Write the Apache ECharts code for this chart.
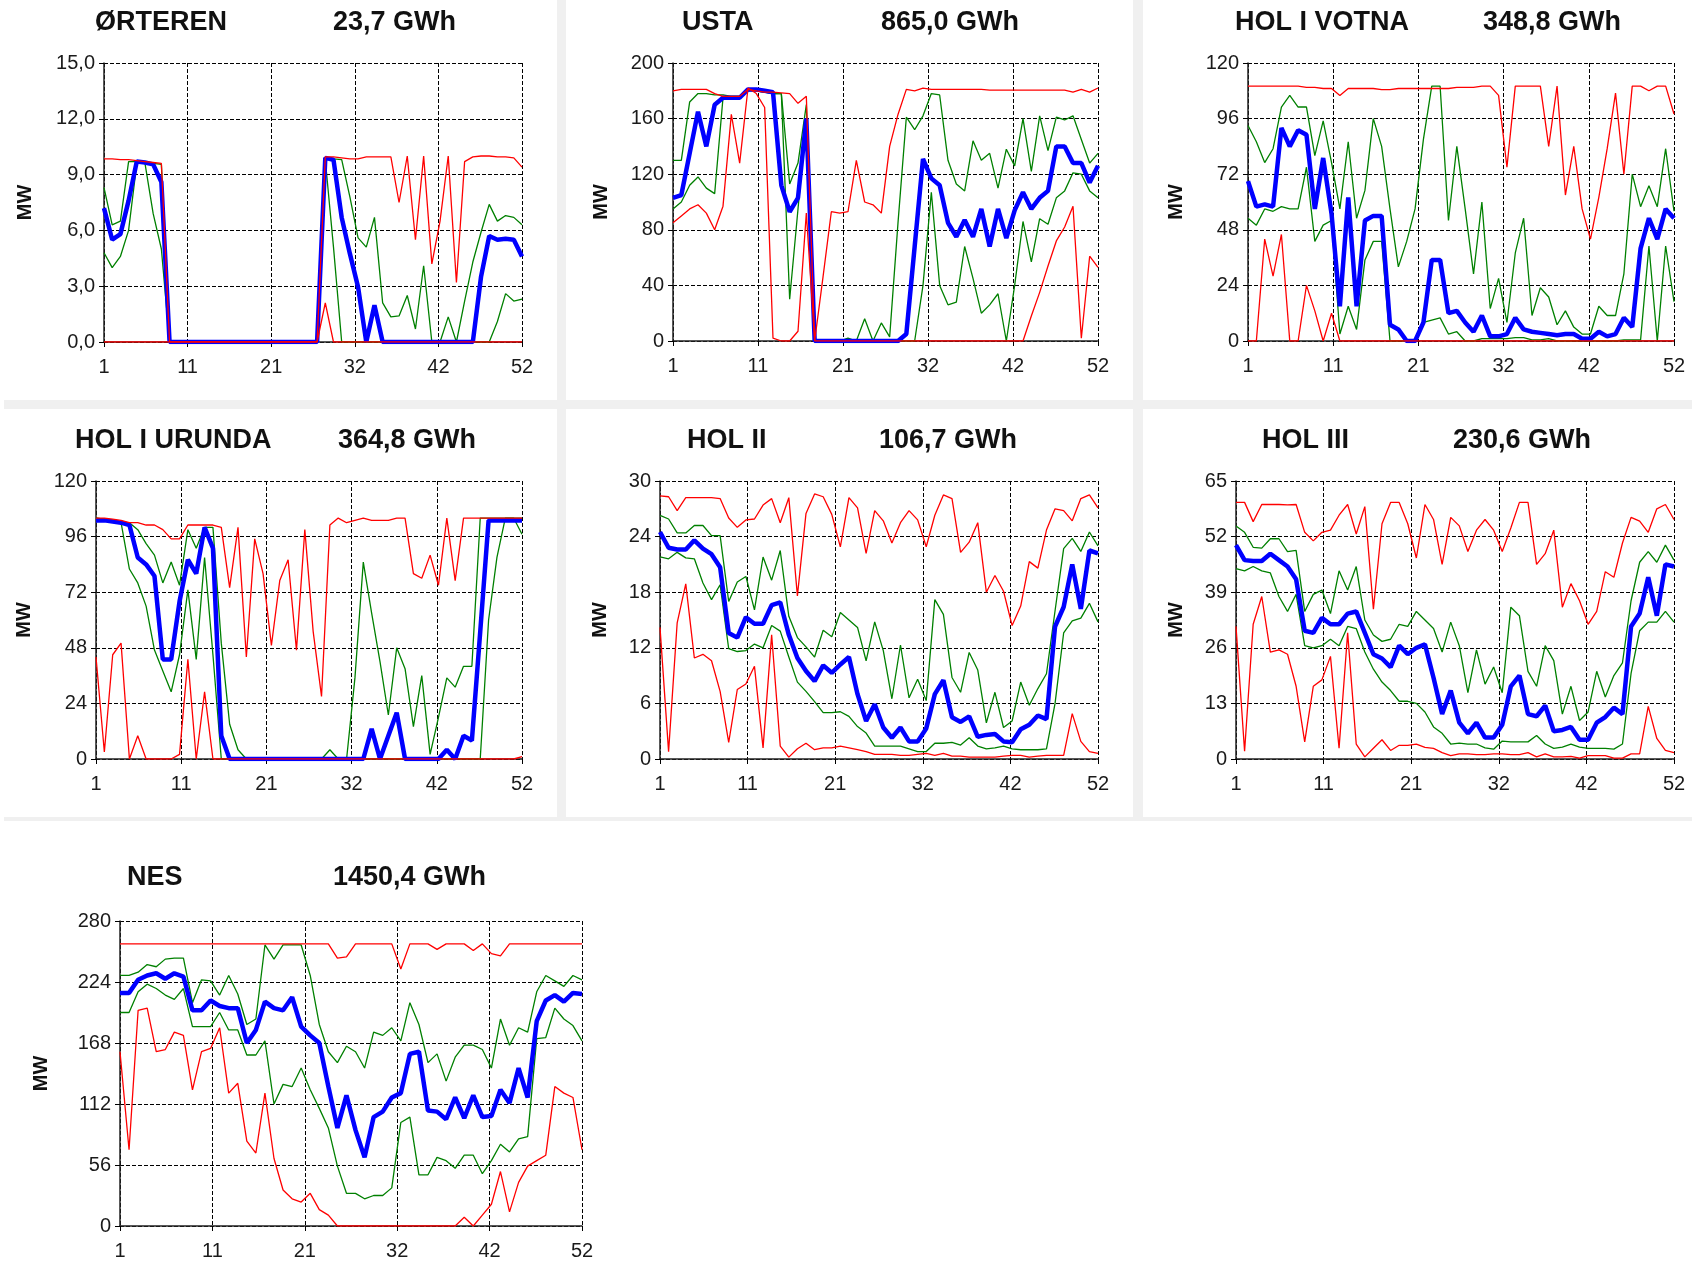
<!DOCTYPE html>
<html>
<head>
<meta charset="utf-8">
<title>Produksjon per uke</title>
<script src="https://cdn.jsdelivr.net/npm/echarts@6/dist/echarts.min.js"></script>
<style>
html, body { margin: 0; padding: 0; background: #fff; }
#chart { width: 1692px; height: 1262px; }
</style>
</head>
<body>
<div id="chart"></div>
<script>
// uke 1..52
const weeks = [1,2,3,4,5,6,7,8,9,10,11,12,13,14,15,16,17,18,19,20,21,22,23,24,25,26,
  27,28,29,30,31,32,33,34,35,36,37,38,39,40,41,42,43,44,45,46,47,48,49,50,51,52];

const stationNames = ['ØRTEREN', 'USTA', 'HOL I VOTNA', 'HOL I URUNDA', 'HOL II', 'HOL III', 'NES'];
const energyGWh = ['23,7 GWh', '865,0 GWh', '348,8 GWh', '364,8 GWh', '106,7 GWh', '230,6 GWh', '1450,4 GWh'];
const yMaxes = [15, 200, 120, 120, 30, 65, 280];
const yIntervals = [3, 40, 24, 24, 6, 13, 56];

// ØRTEREN
const ortMax = [9.85,9.85,9.8,9.8,9.75,9.7,9.65,9.6,0,0,0,0,0,0,0,0,0,0,0,0,0,0,0,0,0,0,0,
  9.95,9.95,9.9,9.85,9.85,9.95,9.95,9.95,9.95,7.5,10,5.5,10,4.2,6.5,10,3.2,9.7,9.95,10,10,9.95,9.95,9.9,9.4];
const ortHi = [8.3,6.3,6.5,9.7,9.7,9.65,9.6,9.55,0,0,0,0,0,0,0,0,0,0,0,0,0,0,0,0,0,0,0,
  9.9,9.85,9.8,7.8,5.6,5.1,6.7,2.1,1.35,1.4,2.5,0.7,4.1,0,0,1.35,0,2.2,4.3,5.9,7.4,6.5,6.8,6.7,6.3];
const ortMed = [7.2,5.5,5.8,7.6,9.7,9.65,9.55,8.6,0,0,0,0,0,0,0,0,0,0,0,0,0,0,0,0,0,0,0,
  9.9,9.8,6.7,4.75,2.95,0,1.97,0,0,0,0,0,0,0,0,0,0,0,0,3.5,5.7,5.5,5.55,5.5,4.6];
const ortLo = [4.8,4.0,4.6,6.0,9.6,9.6,6.9,5.0,0,0,0,0,0,0,0,0,0,0,0,0,0,0,0,0,0,0,0,
  9.8,5.1,0,0,0,0,0,0,0,0,0,0,0,0,0,0,0,0,0,0,0,1.1,2.6,2.2,2.3];
const ortMin = [0,0,0,0,0,0,0,0,0,0,0,0,0,0,0,0,0,0,0,0,0,0,0,0,0,0,0,
  2.1,0,0,0,0,0,0,0,0,0,0,0,0,0,0,0,0,0,0,0,0,0,0,0,0];

// USTA
const ustaMax = [180,181,181,181,181,178,176,176,176,181,180,179,179,178.5,178,171,176,0,46,93,92,93,130,100,98,92,
  140,163,181,180,182,181,181,181,181,181,181,181,180.5,180.5,180.5,180.5,180.5,180.5,180.5,180.5,180.5,180.5,179,181,179,182];
const ustaHi = [130,130,172,178,178,177,177,176,176,181,180,179,178,178,113,128,170,0,0,0,0,2,0,16,0,13,
  3,85,161,152,162,178,177,130,113,108,144,130,135,110,138,126,160,122,162,137,161,159,162,145,128,135];
const ustaMed = [103,105,135,165,140,170,175,175,175,181,181,180,179,112,93,103,160,0,0,0,0,0,0,0,0,0,
  0,0,5,68,131,117,112,85,75,87,75,95,68,95,74,94,107,95,103,108,140,140,128,128,114,126];
const ustaLo = [95,100,112,118,110,106,175,176,176,180,180,179,178,178,30,95,160,0,0,0,0,0,0,0,0,0,
  0,0,0,0,40,107,40,26,28,68,45,20,26,34,0,40,86,57,88,84,103,108,121,120,108,103];
const ustaMin = [85,90,95,98,92,80,97,163,128,182,178,168,2,0,0,7,92,0,0,0,0,0,0,0,0,0,
  0,0,0,0,0,0,0,0,0,0,0,0,0,0,0,0,0,18,35,54,72,82,97,2,61,53];

// HOL I VOTNA
const votMax = [110,110,110,110,110,110,110,109.5,109.5,109,109,106,109,109,109,109,108.5,108.5,109,109,109,109,109,109,109,109.5,
  109.5,109.5,110,110,106,75,110,110,110,110,84,110,63,84,57,44,62,83,107,72,110,110,108,110,110,98];
const votHi = [93,86,77,83,101,106,101,101,80,95,77,57,86,53,65,96,84,57,32,43,57,87,110,110,52,84,
  57,29,60,14,27,8,38,53,11,23,19,7,13,6,3,3,15,11,11,29,72,58,67,58,83,56];
const votMed = [69,58,59,58,92,84,91,89,57,79,55,15,62,15,52,54,54,7,5,0,0,8,35,35,12,13,
  8,4,11,2,2,3,10,5,4,3.5,3,2.5,3,3,1,1,4,2,3,10,6,40,53,44,57,53];
const votLo = [53,50,57,56,58,57,57,75,43,50,52,3,15,5,35,43,43,0,0,0,0,8,9,10,3,4,
  0,0,1,1,1,1,1.5,1.5,0.5,0.5,1,0,0,0,0,0,0,0,0,0.5,0.5,0.5,41,0,41,17];
const votMin = [0,0,44,28,46,0,0,24,13,0,12,0,0,0,0,0,0,0,0,0,0,0,0,0,0,0,
  0,0,0,0,0,0,0,0,0,0,0,0,0,0,0,0,0,0,0,0,0,0,0,0,0,0];

// HOL I URUNDA
const uruMax = [104,104,103.5,103,102,102,101,101,99,95,95,101,101,101,101,100,74,100,44,95,80,49,77,86,47,99,
  55,27,101,104,102,103,104,103,103,103,104,104,80,78,88,75,104,77,104,104,104,104,104,104,104,104];
const uruHi = [104,103.5,103,102,102,99,93,88,76,85,75,99,91,100,100,50,15,4,0,0,0,0,0,0,0,0,
  0,0,4,0,0,35,85,63,42,19,48,39,14,36,2,18,35,31,40,40,104,104,104,104,104,97];
const uruMed = [103,103,102.5,102,101,87,84,79,43,43,68,86,80,100,91,10,0,0,0,0,0,0,0,0,0,0,
  0,0,0,0,0,0,0,13,0,10,20,0,0,0,0,0,4,0,10,8,55,103,103,103,103,103];
const uruLo = [104,103.5,103,102,82,76,66,47,38,29,45,73,43,87,45,0,0,0,0,0,0,0,0,0,0,0,
  0,0,0,0,0,0,0,0,0,0,0,0,0,0,0,0,0,0,0,0,0,60,87,104,104,104];
const uruMin = [44,3,45,50,0,10,0,0,0,0,2,43,0,29,0,0,0,0,0,0,0,0,0,0,0,0,
  0,0,0,0,0,0,0,0,0,0,0,0,0,0,0,0,0,0,0,0,0,0,0,0,0,1];

// HOL II
const h2Max = [28.4,28.3,26.8,28.2,28.2,28.2,28.2,28.1,26,25,25.8,25.9,27.4,28.1,25.5,28.2,17.6,26.5,28.6,28.3,26.4,22.9,28.2,27.1,22.2,26.8,
  25.7,23.3,25.5,26.8,25.8,22.9,26.3,28.5,28.1,22.3,23.4,25.5,18,19.8,18.1,14.4,16.5,21.3,20.6,24.7,27,26.8,25.7,28.1,28.5,27.1];
const h2Hi = [26.3,25.9,24.4,24.4,25.2,25.2,24.1,24.1,17,19.1,19.7,16.1,21.8,19.3,22.5,15.4,13.1,12.1,11,13.9,13.2,15.8,15,14.2,10.6,14.8,
  11.7,6.5,12.3,6.6,8.6,6.3,17.2,15.6,8.8,7.2,11.5,9.6,3.9,7.2,3.4,4.1,8.3,5.8,7.6,9.2,16,22.7,23.8,22.4,24.5,23.0];
const h2Med = [24.5,22.8,22.6,22.6,23.6,22.7,22.1,20.7,13.6,13.1,15.3,14.6,14.6,16.6,16.9,13.4,10.9,9.5,8.4,10.1,9.3,10.2,11,7,4.1,5.9,
  3.4,2.3,3.4,1.9,1.9,3.3,7,8.5,4.5,4,4.6,2.4,2.6,2.7,1.9,1.8,3.2,3.7,4.7,4.3,14.3,16.4,21,16.2,22.5,22.2];
const h2Lo = [21.8,21.6,22.3,21.7,21.6,19,17.2,18.8,11.9,11.6,11.7,12.4,12,14.4,13.8,11,8.3,7.3,6.2,5,5,5.1,4.6,3.5,2.8,1.4,
  1.4,1.4,1.4,1.1,0.8,0.8,1.7,1.7,1.8,1.5,2.3,1.4,1.1,1.2,1.4,1.1,1.0,1.0,1.0,1.1,6,13.6,14.9,15.2,16.8,14.8];
const h2Min = [14.2,0.8,14.7,18.9,10.9,11.3,10.6,7.3,1.8,7.5,8.1,10,1.2,13.4,1.4,0.2,1.1,1.7,1.0,1.2,1.2,1.4,1.2,1.0,0.8,0.5,
  0.5,0.5,0.4,0.4,0.5,0.6,0.4,0.6,0.3,0.3,0.2,0.2,0.2,0.2,0.3,0.4,0.4,0.2,0.3,0.4,0.4,0.4,4.9,1.9,0.8,0.6];

// HOL III
const h3Max = [60,60,55.5,59.5,59.5,59.5,59.4,59.5,53,51,53,53.5,57,59.5,52.6,59,35,55,60,60,55,47,59.5,56,45.5,56.5,
  54.5,48.5,53.5,56,53.5,48.5,54,60,60,45.5,48,53.5,35.5,41,37,31.5,34.5,43.8,42.5,50.5,56.5,55.6,53,58.5,59.5,56];
const h3Hi = [54.5,53,49.5,49.3,51.5,51.5,48.5,48.8,34.5,38.5,39.5,34,44,39.5,45,32.5,29,27.5,28,31.5,31,34.5,32.5,30.5,25,32,
  26.5,15.5,25.5,17.5,21.5,15.5,35.5,33.5,20.5,17,26.5,23,10.5,17,9,11,20.5,14.5,19.5,22.5,37,46,48.5,46,50,46.5];
const h3Med = [50,46.5,46.3,46.3,48,46.5,45,42,30,29.5,33,31.5,31.5,34,34.5,29.5,24.5,23.5,21.5,26.5,24.5,26,26.8,19,10.5,16,
  8.5,6,8.5,5,5,8,17,19.5,10.5,10,12.5,6.5,6.8,7.5,4.5,4.5,8.5,9.8,12,10.5,31,34,42.5,33.5,45.5,45];
const h3Lo = [44.5,44,45,44,43.5,38,34.5,38.5,26.5,26,26.5,28,26.5,31,30.5,25,21,18,16,13.5,13.5,13,11,7.5,6,3.5,
  3.7,3.5,3.5,2.6,2.3,4.2,4,4,4,5.5,3.5,2.5,2.8,3.5,2.8,2.5,2.5,2.5,2.3,3.5,20,30,32,32,34.5,32];
const h3Min = [31,1.8,31.5,38,25,25.5,24.5,17,4,17,18.5,24,2.5,29.5,3.5,0.5,2.5,4.5,2,3.2,3.2,3.5,2.7,2.5,1.5,0.8,
  1.2,1.2,1,1,1.2,1.2,1,1,1.5,0.5,1.2,0.5,0.5,0.6,0.2,0.8,0.8,0.8,0.2,0.2,1.2,1.2,12.3,4.8,2,1.5];

// NES
const nesMax = [259,259,259,259,259,259,259,259,259,259,259,259,259,259,259,259,259,259,259,259,259,259,259,259,246,247,
  259,259,259,259,259,236,259,259,259,254,259,259,259,253,259,250,248,259,259,259,259,259,259,259,259,259];
const nesHi = [230,230,233,240,238,245,246,246,205,226,225,212,230,213,185,190,258,245,258,258,258,230,185,160,150,165,
  160,145,178,175,182,170,205,185,150,158,133,155,166,166,162,145,190,166,182,178,215,230,225,220,230,226];
const nesMed = [214,214,226,230,232,227,232,229,198,198,207,202,200,200,168,180,206,200,198,210,183,175,168,128,90,120,
  88,63,100,105,118,122,158,160,106,105,98,118,99,120,100,101,125,113,145,118,188,207,212,206,214,213];
const nesLo = [196,196,215,222,218,212,208,218,183,183,183,196,180,180,157,157,170,112,130,128,145,125,108,90,55,30,
  30,25,28,28,35,95,100,47,47,63,60,53,65,65,48,60,75,68,80,82,172,173,200,190,184,170];
const nesMin = [160,70,198,200,160,162,178,175,125,160,163,182,122,131,78,67,122,62,33,25,22,30,15,10,0,0,
  0,0,0,0,0,0,0,0,0,0,0,0,8,0,10,20,50,13,40,55,60,65,128,122,118,70];

const panelSeries = [
  [ortLo, ortHi, ortMed, ortMin, ortMax],
  [ustaLo, ustaHi, ustaMed, ustaMin, ustaMax],
  [votLo, votHi, votMed, votMin, votMax],
  [uruLo, uruHi, uruMed, uruMin, uruMax],
  [h2Lo, h2Hi, h2Med, h2Min, h2Max],
  [h3Lo, h3Hi, h3Med, h3Min, h3Max],
  [nesLo, nesHi, nesMed, nesMin, nesMax]
];

// plassering av plottene: [left, top, width, height]
const gridBoxes = [
  [104, 63, 418, 279],
  [673, 63, 425, 278],
  [1248, 63, 426, 278],
  [96, 481, 426, 278],
  [660, 481, 438, 278],
  [1236, 481, 438, 278],
  [120, 921, 462, 305]
];
// [navn x, GWh x, tekst topp]
const titlePos = [
  [95, 333, 9], [682, 881, 9], [1235, 1483, 9],
  [75, 338, 427], [687, 879, 427], [1262, 1453, 427],
  [127, 333, 864]
];
const mwGap = [69, 62, 62, 62, 50, 50, 69];

const FONT = '"Liberation Sans", Arial, sans-serif';
const lineStyles = [
  { color: '#008000', width: 1.3 },
  { color: '#008000', width: 1.3 },
  { color: '#0000ff', width: 4.5 },
  { color: '#ff0000', width: 1.3 },
  { color: '#ff0000', width: 1.3 }
];

const chart = echarts.init(document.getElementById('chart'));

const grids = [], xAxes = [], yAxes = [], series = [], titles = [];

stationNames.forEach(function (name, p) {
  const b = gridBoxes[p];
  grids.push({ left: b[0], top: b[1], width: b[2], height: b[3], outerBoundsMode: 'none' });

  titles.push({ text: name, left: titlePos[p][0], top: titlePos[p][2], padding: 0,
    textStyle: { fontSize: 27, fontWeight: 'bold', color: '#111', fontFamily: FONT } });
  titles.push({ text: energyGWh[p], left: titlePos[p][1], top: titlePos[p][2], padding: 0,
    textStyle: { fontSize: 27, fontWeight: 'bold', color: '#111', fontFamily: FONT } });

  // x: uke-1 slik at min er 0, 5 like deler som i originalen (1, 11, 21, 32, 42, 52)
  xAxes.push({
    type: 'value', gridIndex: p, min: 0, max: 51, interval: 10.2,
    axisLine: { show: true, onZero: false, lineStyle: { color: '#222', width: 1.5 } },
    axisTick: { show: true, length: 5, lineStyle: { color: '#000' } },
    axisLabel: { fontSize: 20, color: '#1a1a1a', fontFamily: FONT, margin: 15,
      formatter: function (v) { return String(Math.round(v + 1)); } },
    splitLine: { show: true, lineStyle: { color: '#000', width: 1, type: [4, 2] } }
  });

  yAxes.push({
    type: 'value', gridIndex: p, min: 0, max: yMaxes[p], interval: yIntervals[p],
    name: 'MW', nameLocation: 'middle', nameGap: mwGap[p],
    nameTextStyle: { fontSize: 20, fontWeight: 'bold', color: '#111', fontFamily: FONT },
    axisLine: { show: true, lineStyle: { color: '#222', width: 1.5 } },
    axisTick: { show: true, length: 5, lineStyle: { color: '#000' } },
    axisLabel: { fontSize: 20, color: '#1a1a1a', fontFamily: FONT, margin: 9,
      formatter: function (v) { return p === 0 ? v.toFixed(1).replace('.', ',') : String(v); } },
    splitLine: { show: true, lineStyle: { color: '#000', width: 1, type: [4, 2] } }
  });

  panelSeries[p].forEach(function (vals, k) {
    series.push({
      type: 'line', xAxisIndex: p, yAxisIndex: p,
      data: vals.map(function (v, i) { return [weeks[i] - 1, v]; }),
      symbol: 'none', silent: true, z: 2 + k,
      lineStyle: lineStyles[k]
    });
  });
});

chart.setOption({
  animation: false,
  backgroundColor: '#ffffff',
  title: titles,
  graphic: [
    { type: 'rect', z: -10, shape: { x: 557, y: 0, width: 9, height: 821 }, style: { fill: '#f0f0f0' } },
    { type: 'rect', z: -10, shape: { x: 1133, y: 0, width: 10, height: 821 }, style: { fill: '#f0f0f0' } },
    { type: 'rect', z: -10, shape: { x: 4, y: 400, width: 1688, height: 9 }, style: { fill: '#f0f0f0' } },
    { type: 'rect', z: -10, shape: { x: 4, y: 817, width: 1688, height: 4 }, style: { fill: '#f0f0f0' } }
  ],
  grid: grids,
  xAxis: xAxes,
  yAxis: yAxes,
  series: series
});

window.addEventListener('resize', function () { chart.resize(); });
</script>
</body>
</html>
